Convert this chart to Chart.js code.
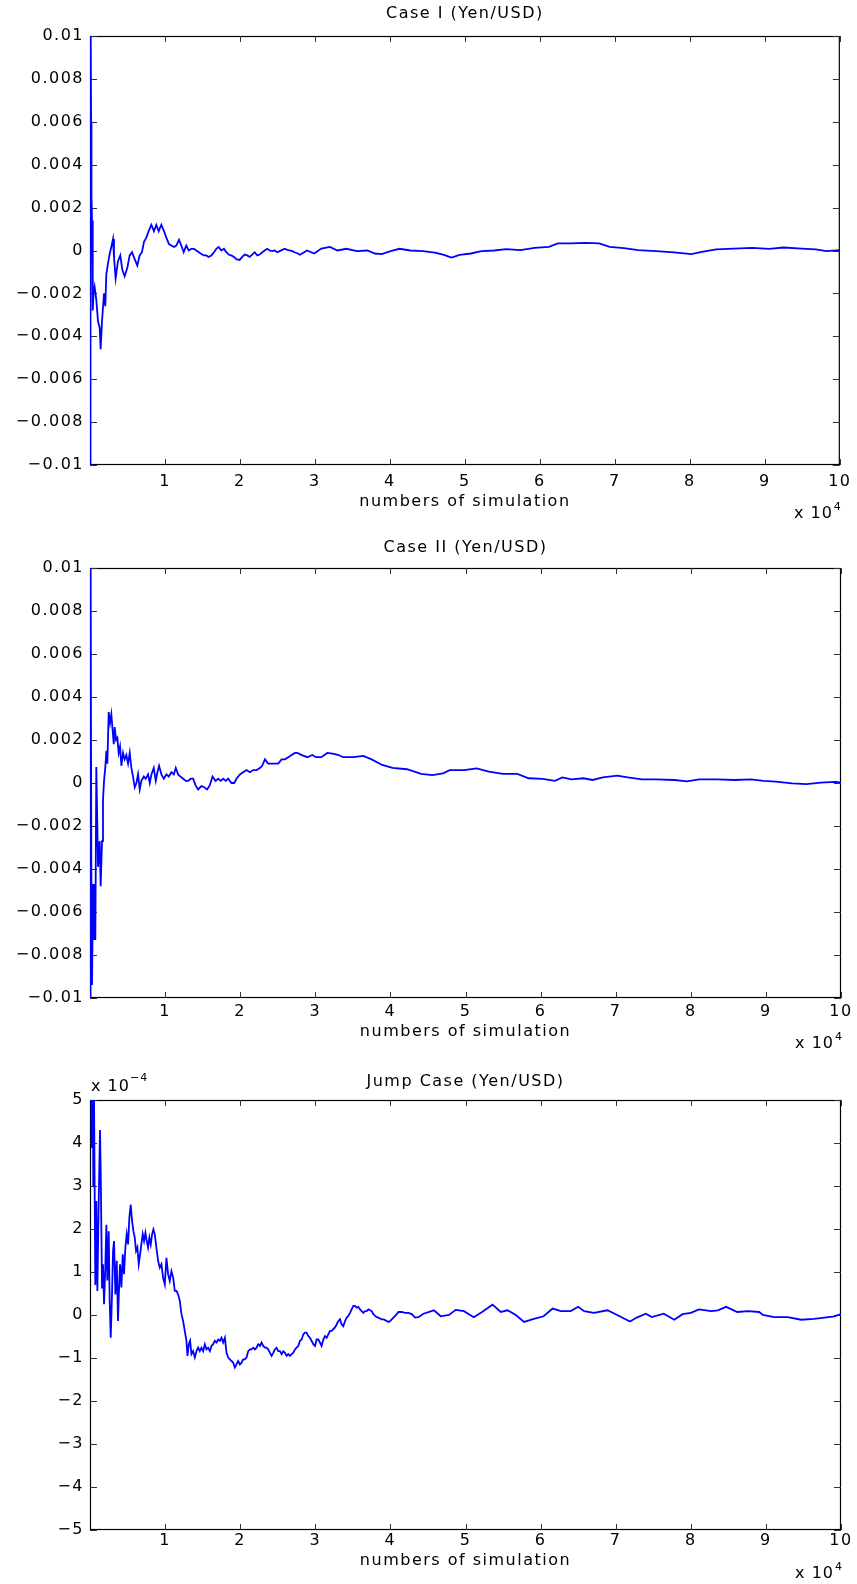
<!DOCTYPE html>
<html>
<head>
<meta charset="utf-8">
<script src="https://cdn.jsdelivr.net/npm/chart.js@4.4.1/dist/chart.umd.min.js"></script>
<style>
  html, body { margin: 0; padding: 0; background: #fff; }
  body { width: 857px; height: 1584px; position: relative; overflow: hidden; }
  canvas { position: absolute; left: 0; }
</style>
</head>
<body>
<canvas id="c1" width="857" height="530" style="top:0px"></canvas>
<canvas id="c2" width="857" height="530" style="top:530px"></canvas>
<canvas id="c3" width="857" height="534" style="top:1050px"></canvas>
<script>
// ---------- DATA (x in units of 10^4 simulations) ----------
const case1X = [0,0.003,0.006,0.01,0.015,0.02,0.027,0.033,0.04,0.047,0.062,0.084,0.107,0.129,0.142,0.16,0.187,0.204,0.218,0.24,0.262,0.284,0.307,0.32,0.342,0.373,0.404,0.431,0.462,0.498,0.529,0.56,0.596,0.631,0.662,0.693,0.72,0.751,0.782,0.818,0.853,0.884,0.916,0.951,0.987,1.018,1.053,1.084,1.12,1.151,1.187,1.218,1.249,1.284,1.316,1.351,1.387,1.418,1.453,1.484,1.52,1.551,1.582,1.618,1.653,1.684,1.716,1.751,1.787,1.818,1.853,1.884,1.92,1.951,1.996,2.031,2.062,2.098,2.129,2.164,2.196,2.231,2.262,2.298,2.329,2.364,2.396,2.431,2.462,2.498,2.529,2.564,2.596,2.631,2.662,2.698,2.729,2.764,2.8,2.895,2.99,3.085,3.2,3.3,3.42,3.56,3.7,3.8,3.89,4.01,4.13,4.27,4.44,4.6,4.72,4.82,4.93,5.08,5.22,5.39,5.55,5.74,5.93,6.12,6.24,6.41,6.6,6.79,6.93,7.12,7.31,7.55,7.79,8.02,8.16,8.35,8.59,8.83,9.06,9.25,9.49,9.68,9.82,10];
const case1Y = [0.03,-0.03,0.025,0.012,0.006,0.0025,0.0014,0.0011,-0.0028,-0.002,-0.0017,-0.0023,-0.0033,-0.0036,-0.0046,-0.0033,-0.002,-0.0026,-0.0011,-0.0006,-0.00016,0.00016,0.00054,-0.0003,-0.0013,-0.0005,-0.00023,-0.0009,-0.0012,-0.0008,-0.00023,-0.00008,-0.0004,-0.0007,-0.00023,-0.00008,0.0004,0.0006,0.0009,0.0012,0.0009,0.0012,0.0009,0.0012,0.0009,0.0006,0.0003,0.00023,0.00016,0.00023,0.0005,0.00023,-0.00008,0.00023,0,0.00008,0.00008,0,-0.00008,-0.00016,-0.00023,-0.00023,-0.0003,-0.00023,-0.00008,0.00008,0.00016,0,0.00008,-0.00008,-0.0002,-0.00023,-0.0003,-0.0004,-0.00044,-0.0003,-0.00019,-0.00023,-0.0003,-0.00019,-0.00008,-0.00023,-0.00019,-0.00008,0,0.00008,0,-0.00003,0,-0.00008,-0.00003,0.00003,0.00008,0.00003,0,-0.00003,-0.00008,-0.00013,-0.0002,0,-0.00014,0.00009,0.00017,0,0.00008,-0.00003,0,-0.00014,-0.00017,-0.00003,0.00008,0,-0.00003,-0.0001,-0.0002,-0.00033,-0.0002,-0.00014,-0.00003,0,0.00006,0.00002,0.00012,0.00017,0.00033,0.00033,0.00036,0.00033,0.00017,0.00011,0.00002,-0.00003,-0.00009,-0.00017,-0.00006,0.00005,0.00009,0.00012,0.00008,0.00014,0.00009,0.00005,-0.00003,0.00002];

const case2X = [0,0.002,0.005,0.008,0.012,0.018,0.027,0.04,0.053,0.062,0.071,0.084,0.098,0.107,0.129,0.142,0.16,0.173,0.187,0.204,0.218,0.231,0.249,0.267,0.284,0.298,0.316,0.329,0.347,0.364,0.382,0.4,0.418,0.44,0.462,0.484,0.507,0.529,0.551,0.573,0.596,0.618,0.64,0.662,0.684,0.716,0.742,0.773,0.796,0.818,0.849,0.876,0.898,0.92,0.951,0.982,1.018,1.049,1.084,1.116,1.142,1.173,1.204,1.24,1.276,1.307,1.342,1.373,1.404,1.44,1.484,1.52,1.56,1.596,1.631,1.671,1.707,1.742,1.773,1.809,1.84,1.884,1.92,1.951,1.996,2.04,2.084,2.129,2.173,2.218,2.262,2.293,2.329,2.373,2.418,2.462,2.507,2.551,2.596,2.64,2.684,2.729,2.76,2.82,2.895,2.96,3.01,3.08,3.16,3.25,3.31,3.37,3.44,3.51,3.64,3.75,3.89,4.03,4.22,4.41,4.56,4.7,4.79,4.98,5.15,5.31,5.5,5.69,5.84,6.03,6.19,6.29,6.41,6.57,6.69,6.83,7.02,7.16,7.35,7.54,7.78,7.95,8.11,8.35,8.59,8.8,8.97,9.13,9.35,9.54,9.73,9.92,10];
const case2Y = [0.03,-0.03,0.02,-0.02,0.012,-0.0042,-0.0094,-0.0047,-0.0073,-0.006,-0.0073,0.00074,-0.002,-0.0039,-0.0027,-0.0048,-0.0027,-0.0008,0.0001,0.00074,0.0015,0.0009,0.0033,0.0028,0.0032,0.0026,0.0018,0.0026,0.002,0.0021,0.0014,0.0017,0.0008,0.0014,0.0011,0.0013,0.0009,0.0014,0.0007,0.0003,-0.0002,0,0.0004,-0.0003,0.0001,0.0003,0.0002,0.0004,0,0.0004,0.0007,0.0001,0.0005,0.0008,0.0004,0.0002,0.0004,0.0003,0.0005,0.0004,0.0007,0.0004,0.0003,0.0002,0.0001,0.0001,0.0002,0.0002,-0.0001,-0.0003,-0.00014,-0.0002,-0.0003,-0.0001,0.0003,0.0001,0.0002,0.0001,0.0002,0.0001,0.0002,0,0,0.0002,0.0004,0.0005,0.0006,0.0005,0.0006,0.0006,0.0007,0.0008,0.0011,0.0009,0.0009,0.0009,0.0009,0.0011,0.0011,0.0012,0.0013,0.0014,0.0014,0.0013,0.0012,0.0013,0.0012,0.0012,0.0014,0.00135,0.0013,0.0012,0.0012,0.0012,0.00126,0.0011,0.00084,0.0007,0.00064,0.00042,0.00037,0.00045,0.0006,0.0006,0.00068,0.00053,0.00042,0.00042,0.00022,0.00019,0.0001,0.00026,0.00017,0.00022,0.00014,0.00026,0.00034,0.00026,0.00017,0.00017,0.00014,0.00008,0.00017,0.00017,0.00014,0.00017,0.0001,0.00006,-0.00002,-0.00005,0.00002,0.00005,0.00003];

// jump case values in units of 10^-4
const jumpX = [0,0.006,0.012,0.018,0.022,0.027,0.036,0.044,0.053,0.071,0.084,0.098,0.116,0.133,0.142,0.16,0.173,0.187,0.204,0.218,0.231,0.249,0.262,0.276,0.293,0.307,0.32,0.338,0.356,0.373,0.387,0.4,0.418,0.436,0.453,0.471,0.489,0.507,0.524,0.542,0.56,0.578,0.596,0.613,0.631,0.649,0.667,0.684,0.702,0.72,0.738,0.756,0.773,0.791,0.809,0.827,0.844,0.862,0.884,0.907,0.929,0.951,0.973,0.996,1.018,1.04,1.062,1.084,1.107,1.129,1.151,1.173,1.196,1.218,1.24,1.262,1.284,1.298,1.316,1.333,1.351,1.373,1.396,1.418,1.44,1.462,1.484,1.507,1.529,1.551,1.573,1.596,1.618,1.64,1.662,1.684,1.707,1.729,1.751,1.773,1.796,1.818,1.84,1.862,1.884,1.907,1.929,1.951,1.973,1.996,2.018,2.04,2.062,2.084,2.107,2.129,2.151,2.173,2.196,2.218,2.24,2.262,2.284,2.307,2.329,2.351,2.373,2.396,2.418,2.44,2.462,2.484,2.507,2.529,2.551,2.573,2.596,2.618,2.64,2.662,2.684,2.707,2.729,2.751,2.773,2.796,2.818,2.84,2.862,2.884,2.907,2.929,2.951,2.973,2.996,3.018,3.04,3.062,3.084,3.107,3.129,3.151,3.173,3.196,3.218,3.24,3.262,3.284,3.307,3.329,3.351,3.373,3.396,3.418,3.44,3.462,3.484,3.507,3.529,3.551,3.573,3.596,3.618,3.64,3.662,3.684,3.707,3.729,3.751,3.773,3.796,3.818,3.84,3.862,3.884,3.907,3.929,3.951,3.973,3.996,4.018,4.04,4.062,4.084,4.107,4.151,4.196,4.24,4.284,4.329,4.373,4.44,4.58,4.67,4.78,4.87,4.98,5.11,5.22,5.36,5.47,5.56,5.67,5.78,5.91,6.04,6.16,6.27,6.4,6.5,6.58,6.71,6.89,7.02,7.19,7.28,7.4,7.48,7.64,7.78,7.89,8,8.11,8.27,8.36,8.47,8.62,8.76,8.91,8.96,9.11,9.29,9.47,9.64,9.78,9.91,10];
const jumpY = [12,7,9,5.5,4.0,3.9,6,3.0,5.2,0.7,2.65,0.56,2.65,4.3,3.4,0.64,1.18,0.25,1.1,2.1,0.8,1.95,0.33,-0.53,0.48,1.49,1.72,0.48,1.26,-0.14,0.64,1.18,0.64,1.41,0.95,1.57,1.88,1.64,2.26,2.57,2.19,1.95,1.8,1.49,1.57,1.18,1.41,1.64,1.88,1.72,1.91,1.72,1.57,1.8,1.64,1.88,1.99,1.88,1.57,1.26,1.1,1.18,0.87,0.71,1.33,0.95,0.79,1.02,0.87,0.56,0.56,0.48,0.33,0.02,-0.14,-0.37,-0.6,-0.95,-0.68,-0.6,-0.91,-0.84,-0.99,-0.84,-0.76,-0.84,-0.76,-0.84,-0.68,-0.8,-0.76,-0.84,-0.72,-0.68,-0.6,-0.64,-0.57,-0.6,-0.53,-0.64,-0.53,-0.88,-0.99,-1.03,-1.07,-1.11,-1.22,-1.15,-1.07,-1.15,-1.11,-1.03,-1.03,-0.99,-0.84,-0.8,-0.8,-0.76,-0.8,-0.76,-0.68,-0.72,-0.64,-0.72,-0.76,-0.76,-0.8,-0.88,-0.95,-0.88,-0.8,-0.76,-0.84,-0.84,-0.91,-0.84,-0.88,-0.95,-0.91,-0.95,-0.91,-0.88,-0.8,-0.76,-0.72,-0.6,-0.57,-0.45,-0.41,-0.41,-0.49,-0.53,-0.6,-0.68,-0.72,-0.57,-0.57,-0.64,-0.72,-0.57,-0.49,-0.53,-0.45,-0.37,-0.37,-0.33,-0.29,-0.22,-0.14,-0.1,-0.22,-0.26,-0.14,-0.06,-0.02,0.05,0.13,0.21,0.21,0.17,0.19,0.13,0.09,0.05,0.09,0.09,0.13,0.11,0.09,0.02,-0.02,-0.05,-0.06,-0.08,-0.1,-0.1,-0.12,-0.14,-0.16,-0.14,-0.1,-0.06,-0.02,0.02,0.07,0.07,0.05,0.05,0.02,-0.06,-0.05,0.03,0.11,-0.03,0,0.12,0.09,-0.05,0.07,0.24,0.07,0.11,0,-0.16,-0.09,-0.03,0.15,0.09,0.09,0.19,0.09,0.05,0.11,0,-0.15,-0.06,0.03,-0.05,0.03,-0.11,0.02,0.05,0.13,0.09,0.11,0.19,0.07,0.09,0.07,0,-0.05,-0.05,-0.11,-0.09,-0.06,-0.03,0.02];

const xTicks = [1,2,3,4,5,6,7,8,9,10];
const xTickLabels = ['1','2','3','4','5','6','7','8','9','10'];
const yTicksCase = [-0.01,-0.008,-0.006,-0.004,-0.002,0,0.002,0.004,0.006,0.008,0.01];
const yTickLabelsCase = ['\u22120.01','\u22120.008','\u22120.006','\u22120.004','\u22120.002','0','0.002','0.004','0.006','0.008','0.01'];
const yTicksJump = [-5,-4,-3,-2,-1,0,1,2,3,4,5];
const yTickLabelsJump = ['\u22125','\u22124','\u22123','\u22122','\u22121','0','1','2','3','4','5'];

const titles = ['Case I (Yen/USD)', 'Case II (Yen/USD)', 'Jump Case (Yen/USD)'];
const xAxisTitle = 'numbers of simulation';

// ---------- RENDERING ----------
const FONT = '"DejaVu Sans", "Liberation Sans", sans-serif';
const FS = 16;

const spacingPlugin = {
  id: 'spacing',
  beforeDraw(chart) { chart.ctx.letterSpacing = '1.5px'; }
};

const framePlugin = {
  id: 'frame',
  beforeDatasetsDraw(chart, args, opts) {
    const {ctx, chartArea: a, scales: {x, y}} = chart;
    ctx.save();
    ctx.strokeStyle = '#000';
    ctx.lineWidth = 1.2;
    ctx.strokeRect(a.left + 0.5, a.top + 0.5, a.right - a.left - 1, a.bottom - a.top - 1);
    ctx.strokeStyle = '#333';
    ctx.lineWidth = 1;
    ctx.beginPath();
    opts.xTicks.forEach(v => {
      const p = Math.round(x.getPixelForValue(v)) + 0.5;
      ctx.moveTo(p, a.bottom); ctx.lineTo(p, a.bottom - 6);
      ctx.moveTo(p, a.top); ctx.lineTo(p, a.top + 6);
    });
    opts.yTicks.forEach(v => {
      const p = Math.round(y.getPixelForValue(v)) + 0.5;
      ctx.moveTo(a.left, p); ctx.lineTo(a.left + 7, p);
      ctx.moveTo(a.right, p); ctx.lineTo(a.right - 7, p);
    });
    ctx.stroke();
    ctx.restore();
  },
  afterDraw(chart, args, opts) {
    const {ctx, chartArea: a} = chart;
    ctx.save();
    ctx.fillStyle = '#000';
    ctx.letterSpacing = '1px';
    ctx.textBaseline = 'middle';
    // x 10^4 multiplier at lower right
    ctx.font = FS + 'px ' + FONT;
    ctx.textAlign = 'right';
    ctx.fillText('x 10', a.right - 7, a.bottom + opts.xExpDy);
    ctx.font = '11px ' + FONT;
    ctx.textAlign = 'left';
    ctx.fillText('4', a.right - 6, a.bottom + opts.xExpDy - 7);
    if (opts.yExp) {
      ctx.font = FS + 'px ' + FONT;
      ctx.textAlign = 'left';
      ctx.fillText('x 10', a.left + 1, a.top - 13);
      ctx.font = '11px ' + FONT;
      ctx.fillText(opts.yExp, a.left + 40, a.top - 22);
    }
    ctx.restore();
  }
};

function makeChart(id, xs, ys, cfg) {
  const data = xs.map((v, i) => ({x: v, y: ys[i]}));
  const H = document.getElementById(id).height;
  return new Chart(document.getElementById(id), {
    type: 'scatter',
    data: { datasets: [{
      data,
      showLine: true,
      borderColor: '#0000ff',
      backgroundColor: '#0000ff',
      borderWidth: 1.8,
      pointRadius: 0,
      pointHoverRadius: 0,
      tension: 0
    }]},
    plugins: [spacingPlugin, framePlugin],
    options: {
      responsive: false,
      animation: false,
      events: [],
      layout: { padding: { left: 0, right: 16, top: 0, bottom: 0 } },
      plugins: {
        legend: { display: false },
        tooltip: { enabled: false },
        title: {
          display: true, text: cfg.title, color: '#000', fullSize: false,
          font: { family: FONT, size: FS, weight: 'normal', lineHeight: 1.2 },
          padding: { top: cfg.titleTop, bottom: cfg.plotTop - cfg.titleTop - FS * 1.2 }
        },
        frame: { xTicks, yTicks: cfg.yTicks, yExp: cfg.yExp, xExpDy: cfg.xExpDy }
      },
      scales: {
        x: {
          type: 'linear', position: 'bottom', min: 0, max: 10,
          afterBuildTicks: s => { s.ticks = xTicks.map(v => ({value: v})); },
          afterFit: s => { s.height = H - cfg.plotBottom; },
          grid: { display: false, drawTicks: false },
          border: { display: false },
          ticks: {
            autoSkip: false, maxRotation: 0, minRotation: 0, padding: cfg.xTickPad, color: '#000',
            font: { family: FONT, size: FS },
            callback: (v, i) => xTickLabels[i]
          },
          title: {
            display: true, text: xAxisTitle, color: '#000',
            font: { family: FONT, size: FS, lineHeight: 1.2 },
            padding: { top: 0, bottom: cfg.xTitleBottom }
          }
        },
        y: {
          type: 'linear', position: 'left', min: cfg.yTicks[0], max: cfg.yTicks[cfg.yTicks.length - 1],
          afterBuildTicks: s => { s.ticks = cfg.yTicks.map(v => ({value: v})); },
          afterFit: s => { s.width = 90; },
          grid: { display: false, drawTicks: false },
          border: { display: false },
          ticks: {
            autoSkip: false, padding: 6, color: '#000',
            font: { family: FONT, size: FS },
            callback: (v, i) => cfg.yLabels[i]
          }
        }
      }
    }
  });
}

makeChart('c1', case1X, case1Y, {
  title: titles[0], titleTop: 4, plotTop: 36, plotBottom: 465, xTitleBottom: 19, xTickPad: 7, xExpDy: 49,
  yTicks: yTicksCase, yLabels: yTickLabelsCase
});
makeChart('c2', case2X, case2Y, {
  title: titles[1], titleTop: 8.5, plotTop: 38, plotBottom: 468, xTitleBottom: 19, xTickPad: 4, xExpDy: 46,
  yTicks: yTicksCase, yLabels: yTickLabelsCase
});
makeChart('c3', jumpX, jumpY, {
  title: titles[2], titleTop: 22, plotTop: 50, plotBottom: 480, xTitleBottom: 14, xTickPad: 1, xExpDy: 44,
  yTicks: yTicksJump, yLabels: yTickLabelsJump, yExp: '\u22124'
});
</script>
</body>
</html>
